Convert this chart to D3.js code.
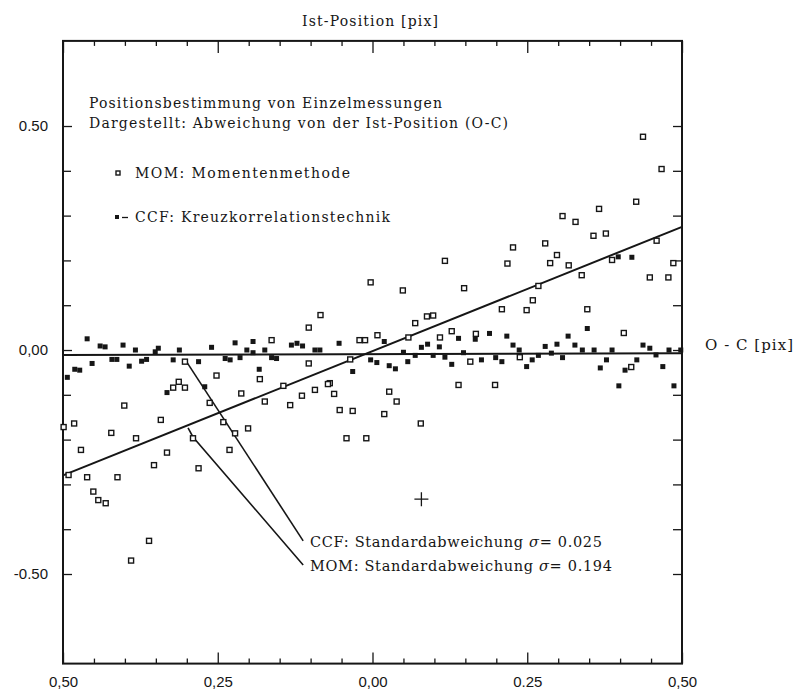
<!DOCTYPE html>
<html>
<head>
<meta charset="utf-8">
<script src="https://cdn.jsdelivr.net/npm/d3@7"></script>
<style>
    body { margin: 0; background: #fff; }
    text { font-family: "DejaVu Serif", "Liberation Serif", serif; fill: #161616; }
    .tick text { font-family: "Liberation Sans", "DejaVu Sans", sans-serif; font-size: 15px; }
</style>
</head>
<body>
<script>

// MOM: Momentenmethode (open squares)
var momX = [0.437, 0.467, 0.426, 0.366, 0.307, 0.328, 0.357, 0.377, 0.279, 0.227,
    0.459, 0.387, 0.486, 0.448, 0.478, 0.406, 0.418, 0.117, 0.218, 0.287,
    0.298, 0.317, 0.338, 0.049, 0.148, 0.268, 0.259, 0.209, 0.249, 0.347,
    0.069, 0.088, 0.098, 0.128, 0.167, 0.109, 0.158, 0.238, 0.139, 0.198,
    0.078, -0.003, 0.008, -0.021, -0.012, 0.058, -0.036, -0.069, -0.062, 0.027,
    0.039, -0.053, -0.032, 0.019, -0.084, -0.103, -0.163, -0.103, -0.182, -0.252,
    -0.144, -0.072, -0.093, -0.114, -0.212, -0.174, -0.133, -0.263, -0.241, -0.201,
    -0.303, -0.313, -0.322, -0.303, -0.401, -0.482, -0.342, -0.422, -0.382, -0.332,
    -0.353, -0.290, -0.281, -0.231, -0.042, -0.010, -0.491, -0.461, -0.412, -0.451,
    -0.443, -0.431, -0.361, -0.390, -0.471, -0.499, -0.222];
var momY = [0.476, 0.404, 0.331, 0.315, 0.299, 0.286, 0.255, 0.260, 0.238, 0.229,
    0.244, 0.201, 0.194, 0.162, 0.162, 0.038, -0.038, 0.199, 0.193, 0.194,
    0.212, 0.189, 0.167, 0.133, 0.138, 0.143, 0.111, 0.091, 0.089, 0.091,
    0.060, 0.075, 0.077, 0.042, 0.036, 0.028, -0.026, -0.016, -0.078, -0.078,
    -0.164, 0.151, 0.033, 0.022, 0.022, 0.028, -0.021, -0.074, -0.098, -0.093,
    -0.115, -0.134, -0.136, -0.143, 0.078, 0.050, 0.022, -0.030, -0.065, -0.057,
    -0.080, -0.076, -0.089, -0.102, -0.097, -0.115, -0.123, -0.118, -0.161, -0.175,
    -0.026, -0.071, -0.084, -0.084, -0.124, -0.164, -0.156, -0.185, -0.197, -0.229,
    -0.257, -0.197, -0.264, -0.223, -0.197, -0.197, -0.279, -0.284, -0.284, -0.316,
    -0.335, -0.342, -0.426, -0.470, -0.223, -0.172, -0.186];

// CCF: Kreuzkorrelationstechnik (filled squares)
var ccfX = [0.387, 0.437, 0.448, 0.458, 0.479, 0.498, 0.378, 0.368, 0.408, 0.427,
    0.469, 0.398, 0.487, 0.397, 0.419, 0.139, 0.166, 0.189, 0.217, 0.347,
    0.079, 0.089, 0.108, 0.227, 0.237, 0.279, 0.298, 0.316, 0.327, 0.339,
    0.358, 0.057, 0.069, 0.098, 0.117, 0.128, 0.147, 0.176, 0.199, 0.209,
    0.249, 0.258, 0.268, 0.289, 0.307, -0.054, 0.019, 0.050, -0.003, 0.007,
    0.027, 0.037, -0.032, -0.260, -0.222, -0.193, -0.203, -0.193, -0.174, -0.131,
    -0.122, -0.113, -0.093, -0.085, -0.281, -0.238, -0.230, -0.214, -0.163, -0.155,
    -0.183, -0.271, -0.461, -0.440, -0.432, -0.403, -0.383, -0.346, -0.351, -0.312,
    -0.421, -0.413, -0.453, -0.393, -0.373, -0.365, -0.322, -0.481, -0.473, -0.493,
    -0.332];
var ccfY = [0.000, 0.011, 0.004, -0.011, 0.000, 0.000, -0.022, -0.040, -0.045, -0.022,
    -0.037, -0.080, -0.080, 0.208, 0.207, 0.026, 0.024, 0.037, 0.031, 0.048,
    0.006, 0.013, 0.007, 0.011, 0.000, 0.008, 0.013, 0.031, 0.011, 0.000,
    0.000, -0.026, -0.012, -0.012, -0.016, -0.032, -0.006, -0.022, -0.017, -0.026,
    -0.037, -0.022, -0.012, -0.007, -0.017, 0.015, 0.019, -0.005, -0.022, -0.028,
    -0.035, -0.042, -0.048, 0.006, 0.016, 0.019, 0.000, -0.006, 0.000, 0.011,
    0.015, 0.009, 0.000, 0.000, -0.026, -0.019, -0.022, -0.017, -0.017, -0.019,
    -0.043, -0.082, 0.025, 0.009, 0.007, 0.011, 0.000, 0.004, -0.004, 0.000,
    -0.021, -0.021, -0.030, -0.036, -0.025, -0.021, -0.022, -0.043, -0.045, -0.061,
    -0.095];

// fit lines and pointer lines (data units)
var momFitX = [-0.5, 0.5];
var momFitY = [-0.28, 0.275];
var ccfFitX = [-0.5, 0.5];
var ccfFitY = [-0.011, -0.007];
var ccfPointerX = [-0.300, -0.112];
var ccfPointerY = [-0.027, -0.426];
var momPointerX = [-0.298, -0.290, -0.112];
var momPointerY = [-0.174, -0.194, -0.480];
var crossX = [0.079];
var crossY = [-0.333];

// ticks
var xMajorTicks = [-0.5, -0.25, 0, 0.25, 0.5];
var xTickLabels = ['0,50', '0,25', '0,00', '0.25', '0,50'];
var xMinorTicks = d3.range(-0.45, 0.5, 0.05).filter(function (d) { return Math.abs(d * 4 - Math.round(d * 4)) > 0.01; });
var yMinorTicks = [-0.4, -0.3, -0.2, -0.1, 0.1, 0.2, 0.3, 0.4];
var yMajorTicks = [-0.5, 0, 0.5];
var yTickLabels = ['-0.50', '0,00', '0.50'];

var svgWidth = 797;
var svgHeight = 690;

var svg = d3.select('body').append('svg').attr('width', svgWidth).attr('height', svgHeight);

var x = d3.scaleLinear().domain([-0.5, 0.5]).range([63, 682]);
var y = d3.scaleLinear().domain([-0.7, 0.69]).range([663.6, 40.9]);

function zip(xs, ys) {
    return xs.map(function (d, i) { return [d, ys[i]]; });
}

function styleAxis(g) {
    g.select('.domain').remove();
    g.selectAll('.tick line').attr('stroke', '#161616').attr('stroke-width', 1.3);
}

// minor + major ticks, all pointing inward
svg.append('g').attr('transform', 'translate(0,' + y(-0.7) + ')')
    .call(d3.axisBottom(x).tickValues(xMinorTicks).tickSize(-5).tickFormat('')).call(styleAxis);
svg.append('g').attr('transform', 'translate(0,' + y(-0.7) + ')')
    .call(d3.axisBottom(x).tickValues(xMajorTicks).tickSize(-11).tickPadding(13)
        .tickFormat(function (d, i) { return xTickLabels[i]; })).call(styleAxis);
svg.append('g').attr('transform', 'translate(0,' + y(0.69) + ')')
    .call(d3.axisTop(x).tickValues(xMinorTicks).tickSize(-5).tickFormat('')).call(styleAxis);
svg.append('g').attr('transform', 'translate(0,' + y(0.69) + ')')
    .call(d3.axisTop(x).tickValues(xMajorTicks).tickSize(-12).tickFormat('')).call(styleAxis);

svg.append('g').attr('transform', 'translate(' + x(-0.5) + ',0)')
    .call(d3.axisLeft(y).tickValues(yMinorTicks).tickSize(-8).tickFormat('')).call(styleAxis);
svg.append('g').attr('transform', 'translate(' + x(-0.5) + ',0)')
    .call(d3.axisLeft(y).tickValues(yMajorTicks).tickSize(-9).tickPadding(15)
        .tickFormat(function (d, i) { return yTickLabels[i]; })).call(styleAxis);
svg.append('g').attr('transform', 'translate(' + x(0.5) + ',0)')
    .call(d3.axisRight(y).tickValues(yMinorTicks.concat(yMajorTicks)).tickSize(-9).tickFormat('')).call(styleAxis);

// frame
svg.append('rect')
    .attr('x', x(-0.5)).attr('y', y(0.69))
    .attr('width', x(0.5) - x(-0.5)).attr('height', y(-0.7) - y(0.69))
    .attr('fill', 'none').attr('stroke', '#161616').attr('stroke-width', 2);

var line = d3.line().x(function (d) { return x(d[0]); }).y(function (d) { return y(d[1]); });

svg.append('path').attr('d', line(zip(ccfFitX, ccfFitY)))
    .attr('fill', 'none').attr('stroke', '#161616').attr('stroke-width', 2);
svg.append('path').attr('d', line(zip(momFitX, momFitY)))
    .attr('fill', 'none').attr('stroke', '#161616').attr('stroke-width', 2);
svg.append('path').attr('d', line(zip(ccfPointerX, ccfPointerY)))
    .attr('fill', 'none').attr('stroke', '#161616').attr('stroke-width', 1.6);
svg.append('path').attr('d', line(zip(momPointerX, momPointerY)))
    .attr('fill', 'none').attr('stroke', '#161616').attr('stroke-width', 1.6);

// data points
svg.append('g').selectAll('rect')
    .data(zip(momX, momY))
    .enter()
    .append('rect')
    .attr('x', function (d) { return x(d[0]) - 2.5; })
    .attr('y', function (d) { return y(d[1]) - 2.5; })
    .attr('width', 5).attr('height', 5)
    .attr('fill', '#fff').attr('stroke', '#161616').attr('stroke-width', 1.4);

svg.append('g').selectAll('rect')
    .data(zip(ccfX, ccfY))
    .enter()
    .append('rect')
    .attr('x', function (d) { return x(d[0]) - 2.5; })
    .attr('y', function (d) { return y(d[1]) - 2.5; })
    .attr('width', 5).attr('height', 5)
    .attr('fill', '#161616');

// cross marker
svg.append('g').selectAll('path')
    .data(zip(crossX, crossY))
    .enter()
    .append('path')
    .attr('d', function (d) {
        var cx = x(d[0]), cy = y(d[1]);
        return 'M' + (cx - 7) + ',' + cy + 'H' + (cx + 7) + 'M' + cx + ',' + (cy - 7) + 'V' + (cy + 7);
    })
    .attr('stroke', '#161616').attr('stroke-width', 1.3);

// texts
function label(tx, ty, str, len, size) {
    return svg.append('text').attr('x', tx).attr('y', ty)
        .attr('font-size', size || 14)
        .attr('textLength', len).attr('lengthAdjust', 'spacing')
        .text(str);
}

label(302, 26, 'Ist-Position [pix]', 136, 14);
label(89, 108, 'Positionsbestimmung von Einzelmessungen', 353);
label(89, 128, 'Dargestellt: Abweichung von der Ist-Position (O-C)', 419);
label(135, 178, 'MOM: Momentenmethode', 215);
label(135, 222, 'CCF: Kreuzkorrelationstechnik', 255);

// legend symbols
svg.append('rect').attr('x', 116).attr('y', 171).attr('width', 4).attr('height', 4)
    .attr('fill', '#fff').attr('stroke', '#161616').attr('stroke-width', 1.4);
svg.append('rect').attr('x', 115).attr('y', 215).attr('width', 4).attr('height', 4).attr('fill', '#161616');
svg.append('path').attr('d', 'M122,217.5H128').attr('stroke', '#161616').attr('stroke-width', 1.3);

var t1 = svg.append('text').attr('x', 310).attr('y', 547).attr('font-size', 14.5)
    .attr('textLength', 292).attr('lengthAdjust', 'spacing');
t1.append('tspan').text('CCF: Standardabweichung ');
t1.append('tspan').attr('font-style', 'italic').text('σ');
t1.append('tspan').text('= 0.025');

var t2 = svg.append('text').attr('x', 310).attr('y', 571).attr('font-size', 14.5)
    .attr('textLength', 302).attr('lengthAdjust', 'spacing');
t2.append('tspan').text('MOM: Standardabweichung ');
t2.append('tspan').attr('font-style', 'italic').text('σ');
t2.append('tspan').text('= 0.194');

svg.append('text').attr('x', 705).attr('y', 350)
    .attr('font-family', '"Liberation Sans", "DejaVu Sans", sans-serif').attr('font-size', 15)
    .attr('textLength', 88).attr('lengthAdjust', 'spacing')
    .text('O - C [pix]');

</script>
</body>
</html>
